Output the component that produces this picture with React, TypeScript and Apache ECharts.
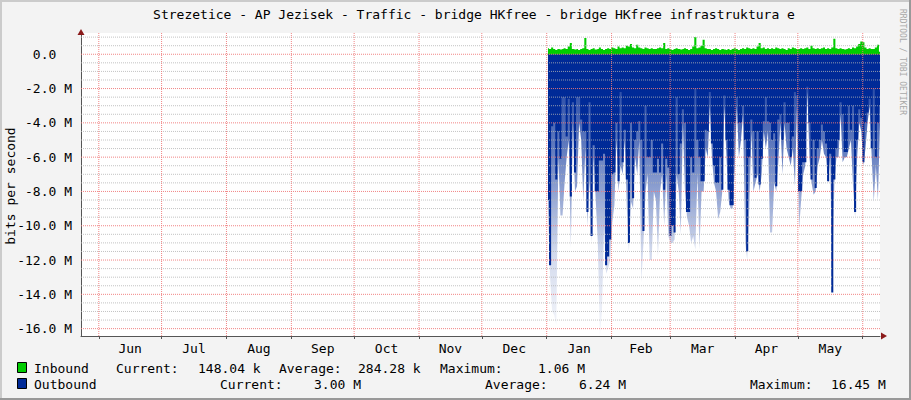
import React, { useEffect, useRef } from "react";
import * as echarts from "echarts";

const TITLE = "Strezetice - AP Jezisek - Traffic - bridge HKfree - bridge HKfree infrastruktura e";
const Y_LABEL = "bits per second";
const WATERMARK = "RRDTOOL / TOBI OETIKER";

const monthNames = ["Jun", "Jul", "Aug", "Sep", "Oct", "Nov", "Dec", "Jan", "Feb", "Mar", "Apr", "May"];
const monthStarts = [
  "2018-06-01", "2018-07-01", "2018-08-01", "2018-09-01", "2018-10-01", "2018-11-01",
  "2018-12-01", "2019-01-01", "2019-02-01", "2019-03-01", "2019-04-01", "2019-05-01", "2019-06-01",
];
const yTicks = [0, -2, -4, -6, -8, -10, -12, -14, -16]; // Mbit/s
const axisMin = -16.43;
const axisMax = 1.24;
const axisStart = "2018-05-23T12:00:00Z";
const axisEnd = "2019-06-09T06:00:00Z";
const sampleStart = "2019-01-01T15:00:00Z";
const sampleEnd = "2019-06-09T06:00:00Z";

// Outbound (Mbit/s, drawn negative): dense core of each spike
const outboundCore = [
  -8.5, -12.3, -4.2, -4, -7.3, -4.5, -6.1, -2.5, -2.5, -4.8,
  -2.6, -8.3, -2.8, -6.9, -2.5, -2.5, -3.8, -4.5, -4.5, -9.2,
  -2.8, -10.6, -5.3, -8.0, -8.0, -6.2, -6.2, -5.8, -12.3, -11.8,
  -10.8, -7, -6.9, -4, -7.4, -2.2, -6.3, -4.4, -7.3, -11,
  -4, -8.4, -5, -4.5, -3.9, -5, -10.3, -3, -6, -6,
  -5, -6.9, -6.9, -6.1, -6.9, -5.2, -7.9, -6.1, -6.6, -10.6,
  -10, -10.4, -2.5, -7, -5.2, -3.2, -4, -9.2, -9.2, -6,
  -6.9, -2, -5, -6, -7.4, -7.4, -4.4, -4.5, -2.2, -5.2,
  -6.5, -7.5, -7.5, -6, -7.9, -2.4, -5, -7.9, -8.8, -8.8,
  -4, -2.5, -4, -4, -3, -5, -11.5, -6, -3.8, -4.5,
  -7.2, -4.5, -7.6, -6.1, -3.9, -2.5, -3.9, -4, -5, -4.6,
  -7.7, -3.8, -3.5, -5, -2.8, -4, -4, -6, -4.8, -2.2,
  -2.4, -8, -8, -6.3, -6.3, -1.9, -4, -7.3, -5, -7.8,
  -5.5, -5, -4.1, -4.5, -5.2, -7.4, -5.8, -13.9, -7.3, -5.5,
  -5, -2.8, -3.5, -5.7, -5.7, -3, -4.4, -3, -9.2, -5,
  -3.2, -3.7, -6.3, -4, -3.4, -2.6, -5.5, -2, -6, -4,
  -3,
];
// Outbound: faint extent of each spike
const outboundPeak = [
  -9, -13, -15, -15.2, -15.8, -6, -9.4, -9.4, -7.5, -6,
  -5, -11.3, -4, -8, -7.7, -4, -5, -8.6, -5.5, -10,
  -7.3, -11, -6, -8.5, -11, -16.45, -15, -10, -12.8, -12.5,
  -12, -9.8, -8.8, -5, -8, -6.5, -7, -5, -9, -11.5,
  -8.6, -9, -6, -7, -5, -13.3, -11, -8, -7, -12,
  -12, -8, -8.5, -11.8, -8, -7, -10, -7, -10.6, -11,
  -11, -10.8, -7, -8, -10.5, -4, -8, -9.5, -10, -11,
  -10.6, -11.4, -7, -11.4, -8, -8, -5.5, -6, -3, -6,
  -7.5, -8, -9.6, -9.2, -8, -3, -6, -8.5, -9, -9,
  -6.7, -3, -6, -5, -3.5, -11, -12, -9, -4.5, -8,
  -7.5, -7, -8, -7, -4.5, -5.5, -4.5, -10.4, -10.4, -7.5,
  -8, -6.3, -4, -7, -4, -5.5, -6, -6.5, -5.5, -7.7,
  -3, -10.2, -8.5, -7, -6.5, -2.2, -6, -7.5, -8.2, -8,
  -6.5, -6, -5, -5.8, -6, -7.5, -6, -14, -7.5, -6,
  -6, -3.5, -6.3, -6, -6, -5.5, -5, -7.7, -9.5, -6,
  -4, -4.5, -6.5, -5.5, -4, -3, -6, -8.6, -6.5, -8.5,
  -4,
];
// Inbound (Mbit/s)
const inbound = [
  0.35, 0.3, 0.4, 0.3, 0.25, 0.3, 0.28, 0.3, 0.35, 0.3,
  0.45, 0.65, 0.3, 0.28, 0.3, 0.25, 0.3, 0.35, 0.95, 0.3,
  0.25, 0.3, 0.35, 0.28, 0.3, 0.4, 0.3, 0.25, 0.3, 0.35,
  0.3, 0.4, 0.35, 0.3, 0.45, 0.35, 0.4, 0.35, 0.5, 0.45,
  0.6, 0.4, 0.35, 0.55, 0.4, 0.35, 0.3, 0.4, 0.35, 0.3,
  0.35, 0.3, 0.3, 0.35, 0.4, 0.35, 0.65, 0.3, 0.35, 0.3,
  0.25, 0.3, 0.35, 0.3, 0.28, 0.3, 0.35, 0.3, 0.25, 0.3,
  0.45, 1.0, 0.35, 0.4, 0.5, 0.85, 0.35, 0.3, 0.3, 0.25,
  0.3, 0.35, 0.3, 0.25, 0.3, 0.28, 0.25, 0.3, 0.25, 0.3,
  0.35, 0.3, 0.25, 0.3, 0.35, 0.3, 0.4, 0.35, 0.3, 0.35,
  0.3, 0.45, 0.65, 0.35, 0.4, 0.3, 0.35, 0.3, 0.35, 0.3,
  0.4, 0.35, 0.3, 0.35, 0.3, 0.25, 0.35, 0.3, 0.4, 0.35,
  0.3, 0.3, 0.35, 0.3, 0.35, 0.4, 0.3, 0.5, 0.35, 0.3,
  0.35, 0.3, 0.35, 0.4, 0.3, 0.35, 0.3, 0.4, 0.9, 0.35,
  0.3, 0.35, 0.3, 0.28, 0.3, 0.35, 0.3, 0.4, 0.35, 0.45,
  0.6, 0.75, 0.7, 0.4, 0.3, 0.35, 0.3, 0.3, 0.4, 0.55,
  0.15,
];

const legendRows = [
  { name: "Inbound", color: "#00CC00", parts: [["Current:", 116], ["148.04 k", 198], ["Average:", 279], ["284.28 k", 358], ["Maximum:", 440], ["1.06 M", 538]] },
  { name: "Outbound", color: "#002A97", parts: [["Current:", 220], ["3.00 M", 314], ["Average:", 485], ["6.24 M", 579], ["Maximum:", 750], ["16.45 M", 831]] },
];

const FONT = '"DejaVu Sans Mono", "Liberation Mono", monospace';

export default function App() {
  const ref = useRef<HTMLDivElement>(null);

  useEffect(() => {
    const chart = echarts.init(ref.current!, null, { renderer: "svg" });

    const xMin = Date.parse(axisStart);
    const xMax = Date.parse(axisEnd);
    const t0 = Date.parse(sampleStart);
    const t1 = Date.parse(sampleEnd);
    const n = inbound.length;
    const times = inbound.map((_, i) => t0 + ((t1 - t0) * i) / (n - 1));
    const starts = monthStarts.map((s) => Date.parse(s + "T00:00:00Z"));
    const mids = monthNames.map((_, i) => (starts[i] + starts[i + 1]) / 2);

    const RED = { color: "#F07878", type: [1, 1], width: 1, opacity: 0.9 };
    const GRAY = { color: "#B4B4B4", type: [1, 1], width: 1, opacity: 0.8 };

    const gridSeries: any[] = [];
    for (let v = -16; v <= 1.001; v += 0.5) {
      const major = yTicks.some((t) => Math.abs(t - v) < 1e-6);
      gridSeries.push({
        type: "line",
        data: [[xMin, v], [xMax, v]],
        symbol: "none",
        silent: true,
        color: major ? "#F07878" : "#B4B4B4",
        lineStyle: major ? RED : GRAY,
        emphasis: { disabled: true },
        z: 10,
      });
    }
    starts.forEach((s) => {
      gridSeries.push({
        type: "line",
        data: [[s, axisMin], [s, axisMax]],
        symbol: "none",
        silent: true,
        color: "#F07878",
        lineStyle: RED,
        emphasis: { disabled: true },
        z: 10,
      });
    });

    const textStyle = (text: string, extra: any = {}) => ({
      text,
      font: `13px ${FONT}`,
      fill: "#000",
      ...extra,
    });

    const graphics: any[] = [
      { type: "rect", shape: { x: 0, y: 0, width: 911, height: 2 }, style: { fill: "#CBCBCB" }, silent: true },
      { type: "rect", shape: { x: 0, y: 0, width: 2, height: 400 }, style: { fill: "#CBCBCB" }, silent: true },
      { type: "rect", shape: { x: 0, y: 398, width: 911, height: 2 }, style: { fill: "#999999" }, silent: true },
      { type: "rect", shape: { x: 909, y: 0, width: 2, height: 400 }, style: { fill: "#999999" }, silent: true },
      { type: "text", x: 474, y: 14, style: textStyle(TITLE, { align: "center", verticalAlign: "middle" }) },
      { type: "text", x: 10, y: 186, rotation: Math.PI / 2, style: textStyle(Y_LABEL, { align: "center", verticalAlign: "middle" }) },
      {
        type: "text", x: 902, y: 62, rotation: -Math.PI / 2,
        style: { text: WATERMARK, font: `8px ${FONT}`, fill: "#a8a8a8", align: "center", verticalAlign: "middle" },
      },
      { type: "polygon", shape: { points: [[77.5, 35], [84.5, 35], [81, 29]] }, style: { fill: "#8B1A1A" }, z: 100 },
      { type: "polygon", shape: { points: [[881, 332.5], [881, 339.5], [887, 336]] }, style: { fill: "#8B1A1A" }, z: 100 },
    ];
    legendRows.forEach((row, r) => {
      const y = 368 + r * 16;
      graphics.push({
        type: "rect", shape: { x: 17.5, y: y - 5.5, width: 9, height: 10 },
        style: { fill: row.color, stroke: "#000", lineWidth: 1 },
      });
      graphics.push({ type: "text", x: 34, y, style: textStyle(row.name, { verticalAlign: "middle" }) });
      row.parts.forEach(([txt, x]) => {
        graphics.push({ type: "text", x: x as number, y, style: textStyle(txt as string, { verticalAlign: "middle" }) });
      });
    });

    const option: any = {
      animation: false,
      backgroundColor: "#F3F3F3",
      grid: {
        left: 81, top: 33, right: 31, bottom: 64,
        show: true, backgroundColor: "#FFFFFF", borderWidth: 0,
      },
      xAxis: {
        type: "value",
        min: xMin,
        max: xMax,
        axisLine: { show: true, onZero: false, lineStyle: { color: "#555", width: 1 } },
        axisTick: { show: true, customValues: starts, length: 3, lineStyle: { color: "#555" } },
        axisLabel: {
          customValues: mids,
          margin: 6,
          color: "#000",
          fontFamily: FONT,
          fontSize: 13,
          formatter: (v: number) => {
            let best = 0;
            mids.forEach((m, i) => { if (Math.abs(m - v) < Math.abs(mids[best] - v)) best = i; });
            return monthNames[best];
          },
        },
        splitLine: { show: false },
      },
      yAxis: {
        type: "value",
        min: axisMin,
        max: axisMax,
        axisLine: { show: true, onZero: false, lineStyle: { color: "#555", width: 1 } },
        axisTick: { show: false },
        splitLine: { show: false },
        axisLabel: {
          customValues: yTicks,
          margin: 9,
          color: "#000",
          fontFamily: FONT,
          fontSize: 13,
          formatter: (v: number) => (Math.abs(v) < 1e-9 ? "0.0\u00a0\u00a0" : v.toFixed(1) + " M"),
        },
      },
      series: [
        {
          name: "OutboundPeak",
          type: "line",
          symbol: "none",
          data: times.map((t, i) => [t, outboundPeak[i]]),
          lineStyle: { width: 0 },
          areaStyle: {
            opacity: 1,
            color: new echarts.graphic.LinearGradient(0, 0, 0, 1, [
              { offset: 0, color: "rgba(0,42,151,0.95)" },
              { offset: 0.35, color: "rgba(0,42,151,0.6)" },
              { offset: 0.7, color: "rgba(0,42,151,0.18)" },
              { offset: 1, color: "rgba(0,42,151,0.03)" },
            ]),
          },
          z: 2,
        },
        {
          name: "Outbound",
          type: "line",
          step: "middle",
          symbol: "none",
          data: times.map((t, i) => [t, outboundCore[i]]),
          lineStyle: { width: 0 },
          areaStyle: { color: "#002A97", opacity: 1 },
          z: 3,
        },
        {
          name: "Inbound",
          type: "line",
          step: "middle",
          symbol: "none",
          data: times.map((t, i) => [t, inbound[i]]),
          lineStyle: { width: 0 },
          areaStyle: { color: "#00CC00", opacity: 1 },
          z: 3,
        },
        ...gridSeries,
      ],
      graphic: graphics,
    };

    chart.setOption(option);
    return () => chart.dispose();
  }, []);

  return <div ref={ref} style={{ position: "absolute", left: 0, top: 0, width: 911, height: 400 }} />;
}
